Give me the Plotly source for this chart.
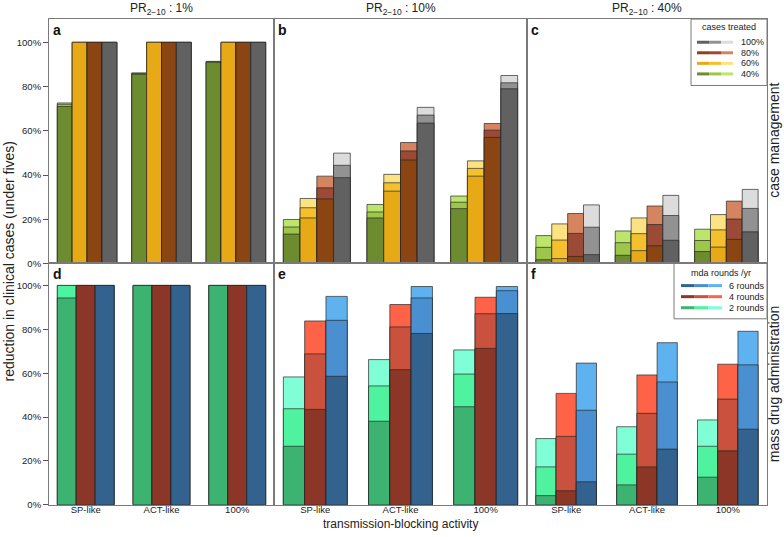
import plotly.graph_objects as go

W, H = 784, 537

# ---------------- data ----------------
categories = ["SP-like", "ACT-like", "100%"]
col_titles = ["PR<sub>2−10</sub> : 1%", "PR<sub>2−10</sub> : 10%", "PR<sub>2−10</sub> : 40%"]
panel_letters = ["a", "b", "c", "d", "e", "f"]

# case management: cumulative tops [dark, mid, light] per category
cm_levels = ["40%", "60%", "80%", "100%"]
pr1_cm40 = [[71.0, 72.0, 72.6], [85.5, 85.9, 86.2], [91.0, 91.2, 91.4]]
pr1_cm60 = [[100, 100, 100], [100, 100, 100], [100, 100, 100]]
pr1_cm80 = [[100, 100, 100], [100, 100, 100], [100, 100, 100]]
pr1_cm100 = [[100, 100, 100], [100, 100, 100], [100, 100, 100]]

pr10_cm40 = [[13.3, 16.5, 19.9], [20.6, 23.3, 26.7], [24.8, 27.7, 30.5]]
pr10_cm60 = [[20.6, 25.2, 29.4], [32.7, 36.5, 40.3], [39.5, 43.0, 46.4]]
pr10_cm80 = [[29.2, 34.2, 39.5], [46.8, 50.9, 54.7], [57.0, 60.3, 63.3]]
pr10_cm100 = [[38.8, 44.4, 49.9], [63.5, 67.1, 70.6], [79.0, 81.7, 85.0]]

pr40_cm40 = [[1.7, 7.3, 12.6], [3.7, 9.4, 14.7], [5.4, 10.4, 15.5]]
pr40_cm60 = [[2.2, 10.6, 17.9], [5.8, 13.5, 20.6], [7.4, 15.2, 22.1]]
pr40_cm80 = [[3.2, 13.6, 22.6], [8.0, 17.6, 26.0], [10.9, 20.1, 28.2]]
pr40_cm100 = [[4.0, 16.4, 26.5], [10.5, 21.7, 30.8], [14.3, 24.9, 33.5]]

# mass drug administration: cumulative tops [dark, mid, light] per category
mda_levels = ["2 rounds", "4 rounds", "6 rounds"]
pr1_mda2 = [[94.3, 100, 100], [100, 100, 100], [100, 100, 100]]
pr1_mda4 = [[100, 100, 100], [100, 100, 100], [100, 100, 100]]
pr1_mda6 = [[100, 100, 100], [100, 100, 100], [100, 100, 100]]

pr10_mda2 = [[26.7, 43.8, 58.3], [38.1, 54.2, 66.2], [44.7, 59.6, 70.6]]
pr10_mda4 = [[43.5, 68.8, 83.8], [61.6, 81.1, 91.3], [71.3, 87.1, 94.6]]
pr10_mda6 = [[58.6, 84.1, 95.0], [78.1, 94.3, 99.5], [87.2, 97.6, 99.5]]

pr40_mda2 = [[4.2, 17.3, 30.2], [9.1, 23.1, 35.6], [12.6, 26.7, 38.7]]
pr40_mda4 = [[6.4, 31.2, 50.8], [17.3, 41.7, 59.2], [24.6, 48.2, 64.1]]
pr40_mda6 = [[10.5, 43.1, 64.6], [25.4, 56.0, 73.9], [34.5, 63.8, 79.1]]

y_ticks = [0, 20, 40, 60, 80, 100]

# ---------------- styles ----------------
FONT = "Liberation Sans, Arial, sans-serif"
cm_colors = [
    ["#6C8C2F", "#9DC64B", "#BCE66B"],  # 40%
    ["#E8A916", "#F4C02E", "#FBE283"],  # 60%
    ["#8B4513", "#9B4A36", "#D4845F"],  # 80%
    ["#616161", "#929292", "#DCDCDC"],  # 100%
]
mda_colors = [
    ["#3CB371", "#4FF29F", "#80FFD6"],  # 2 rounds
    ["#8B3626", "#C9513D", "#FF6347"],  # 4 rounds
    ["#33628F", "#4A90D0", "#5EB2F0"],  # 6 rounds
]
BORDER = "#7a7a7a"

cm_panels = [
    [pr1_cm40, pr1_cm60, pr1_cm80, pr1_cm100],
    [pr10_cm40, pr10_cm60, pr10_cm80, pr10_cm100],
    [pr40_cm40, pr40_cm60, pr40_cm80, pr40_cm100],
]
mda_panels = [
    [pr1_mda2, pr1_mda4, pr1_mda6],
    [pr10_mda2, pr10_mda4, pr10_mda6],
    [pr40_mda2, pr40_mda4, pr40_mda6],
]

# the captured page shows the figure's height slightly compressed (529 of 537 px);
# layout positions below are given in the picture's pixels and converted here
VSCALE = 529 / 537


def px(x):
    return x / W


def py(y):
    return max(0.0, 1 - (y / VSCALE) / H)


col_px = [(49, 274), (274, 527), (527, 767)]
top_px = (19, 262)
bot_px = (262, 502)

fig = go.Figure()


def add_panel(series_list, colors, xa, ya):
    nser = len(series_list)
    slot = 1.0 / (nser + 1)          # one bar-width gap between groups
    for k, series in enumerate(series_list):
        # light (tallest) first, dark last: overlaid in the same slot
        for s in (2, 1, 0):
            fig.add_trace(go.Bar(
                x=categories,
                y=[series[c][s] for c in range(len(categories))],
                width=slot, offset=-nser * slot / 2 + k * slot,
                marker=dict(color=colors[k][s],
                            line=dict(color="rgba(35,35,35,0.85)", width=0.8)),
                xaxis=xa, yaxis=ya, showlegend=False,
                hoverinfo="skip",
            ))


for j in range(3):
    n_top = j + 1
    n_bot = j + 4
    add_panel(cm_panels[j], cm_colors, "x" if n_top == 1 else f"x{n_top}",
              "y" if n_top == 1 else f"y{n_top}")
    add_panel(mda_panels[j], mda_colors, f"x{n_bot}", f"y{n_bot}")

layout_axes = {}
for n in range(1, 7):
    j = (n - 1) % 3
    bottom = n > 3
    xname = "xaxis" if n == 1 else f"xaxis{n}"
    yname = "yaxis" if n == 1 else f"yaxis{n}"
    xs = "x" if n == 1 else f"x{n}"
    ys = "y" if n == 1 else f"y{n}"
    x0, x1 = col_px[j]
    y0, y1 = bot_px if bottom else top_px
    pad = 0.11 if bottom else 0.112
    half = 0.375 if bottom else 0.4
    layout_axes[xname] = dict(
        domain=[px(x0), px(x1)], anchor=ys, type="category",
        categoryorder="array", categoryarray=categories,
        range=[-half - pad, 2 + half + pad],
        showline=True, mirror=True, linecolor=BORDER, linewidth=1,
        showgrid=False, zeroline=False, ticks="",
        showticklabels=bottom, ticklabelstandoff=-4,
        tickfont=dict(family=FONT, size=9.5, color="#222"),
    )
    layout_axes[yname] = dict(
        domain=[py(y1), py(y0)], anchor=xs,
        range=[0, 110] if bottom else [0, 110.5],
        showline=True, mirror=True, linecolor=BORDER, linewidth=1,
        showgrid=False, zeroline=False,
        tickvals=y_ticks, ticktext=[f"{v}%" for v in y_ticks],
        ticks="outside" if j == 0 else "", ticklen=5, tickcolor="#555",
        showticklabels=(j == 0),
        tickfont=dict(family=FONT, size=9.5, color="#222"),
    )

annotations = []
for j in range(3):
    x0, x1 = col_px[j]
    annotations.append(dict(
        text=col_titles[j], x=px((x0 + x1) / 2), y=py(9), xref="paper", yref="paper",
        showarrow=False, xanchor="center", yanchor="middle",
        font=dict(family=FONT, size=12, color="#222")))
for n in range(6):
    j = n % 3
    x0, _ = col_px[j]
    ytop = bot_px[0] if n >= 3 else top_px[0]
    annotations.append(dict(
        text=f"<b>{panel_letters[n]}</b>", x=px(x0 + 2), y=py(ytop + 1),
        xref="paper", yref="paper", showarrow=False, xanchor="left", yanchor="top",
        font=dict(family=FONT, size=14, color="#111")))

annotations += [
    dict(text="reduction in clinical cases (under fives)", x=px(9), y=py(260),
         xref="paper", yref="paper", showarrow=False, textangle=-90,
         xanchor="center", yanchor="middle", font=dict(family=FONT, size=14, color="#222")),
    dict(text="transmission-blocking activity", x=px(400), y=0,
         xref="paper", yref="paper", showarrow=False,
         xanchor="center", yanchor="bottom", borderpad=0,
         font=dict(family=FONT, size=12, color="#222")),
    dict(text="case management", x=1, y=py(140),
         xref="paper", yref="paper", showarrow=False, textangle=-90,
         xanchor="right", yanchor="middle", font=dict(family=FONT, size=14, color="#222")),
    dict(text="mass drug administration", x=1, y=py(382),
         xref="paper", yref="paper", showarrow=False, textangle=-90,
         xanchor="right", yanchor="middle", font=dict(family=FONT, size=14, color="#222")),
]

shapes = []


def legend(box, title, title_xy, labels, colors, line_x, label_x, label_ys):
    bx0, by0, bx1, by1 = box
    shapes.append(dict(type="rect", xref="paper", yref="paper",
                       x0=px(bx0), x1=px(bx1), y0=py(by1), y1=py(by0),
                       line=dict(color=BORDER, width=1), fillcolor="white", layer="above"))
    annotations.append(dict(text=title, x=px(title_xy[0]), y=py(title_xy[1]),
                            xref="paper", yref="paper", showarrow=False,
                            xanchor="center", yanchor="middle",
                            font=dict(family=FONT, size=9, color="#222")))
    lx0, lx1 = line_x
    seg = (lx1 - lx0) / 3
    for lab, cols, yy in zip(labels, colors, label_ys):
        for s in range(3):
            shapes.append(dict(type="line", xref="paper", yref="paper",
                               x0=px(lx0 + s * seg), x1=px(lx0 + (s + 1) * seg),
                               y0=py(yy), y1=py(yy),
                               line=dict(color=cols[s], width=3), layer="above"))
        annotations.append(dict(text=lab, x=px(label_x), y=py(yy),
                                xref="paper", yref="paper", showarrow=False,
                                xanchor="left", yanchor="middle",
                                font=dict(family=FONT, size=9, color="#222")))


legend((691, 19, 767, 85), "cases treated", (729, 27),
       cm_levels[::-1], cm_colors[::-1], (697, 733), 739, [42, 52.5, 63, 73.5])
legend((674, 262, 767, 317), "mda rounds /yr", (721, 271),
       mda_levels[::-1], mda_colors[::-1], (681, 722), 727, [284, 295, 306])

fig.update_layout(
    width=W, height=H, autosize=False, margin=dict(l=0, r=0, t=0, b=0),
    paper_bgcolor="white", plot_bgcolor="white",
    barmode="overlay",
    annotations=annotations, shapes=shapes,
    font=dict(family=FONT),
    **layout_axes,
)

# the page's default 8px body margin would push the fixed-size figure off the window
fig.write_html("out.html", config={"displayModeBar": False, "responsive": False},
               post_script="document.body.style.margin='0px';"
                           "document.documentElement.style.overflow='hidden';")
